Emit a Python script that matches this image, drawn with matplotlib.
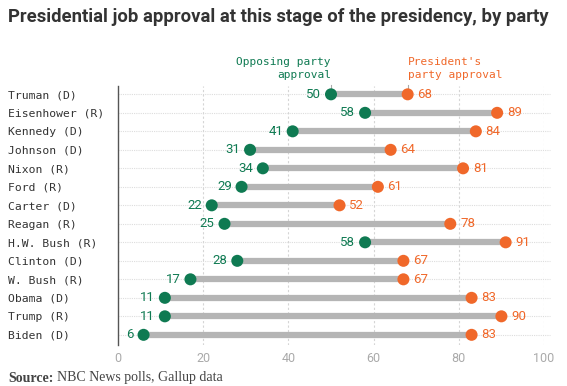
import numpy as np
import matplotlib
matplotlib.use("Agg")
import matplotlib.pyplot as plt

#%% data
presidents = ["Truman (D)", "Eisenhower (R)", "Kennedy (D)", "Johnson (D)", "Nixon (R)",
              "Ford (R)", "Carter (D)", "Reagan (R)", "H.W. Bush (R)", "Clinton (D)",
              "W. Bush (R)", "Obama (D)", "Trump (R)", "Biden (D)"]
opposing = [50, 58, 41, 31, 34, 29, 22, 25, 58, 28, 17, 11, 11, 6]
own_party = [68, 89, 84, 64, 81, 61, 52, 78, 91, 67, 67, 83, 90, 83]
xticks = [0, 20, 40, 60, 80, 100]

green = "#0f7a52"
orange = "#f0682a"
bar_gray = "#b5b5b5"
mono = "DejaVu Sans Mono"
sans = "Roboto"

#%% figure
W, H = 567, 386
fig = plt.figure(figsize=(W/100, H/100), dpi=100)

x0, x100 = 118, 544
ytop, ybot = 86, 345
ax = fig.add_axes([x0/W, 1-ybot/H, (x100-x0)/W, (ybot-ytop)/H])

n = len(presidents)
y = np.arange(n)
ax.set_xlim(0, 100)
ax.set_ylim(n-1+0.55, -0.45)

# grid
for yy in y:
    ax.plot([0, 101.5], [yy, yy], color="#dddddd", lw=0.8, ls=(0, (1, 1)), zorder=0, clip_on=False)
for xt in xticks[1:]:
    ax.axvline(xt, color="#d5d5d5", lw=0.8, ls=(0, (2, 2)), zorder=0)

# bars and dots
for i in range(n):
    ax.plot([opposing[i], own_party[i]], [i, i], color=bar_gray, lw=4.5, solid_capstyle="butt", zorder=2)
ax.scatter(opposing, y, s=75, color=green, zorder=3, edgecolor="none")
ax.scatter(own_party, y, s=75, color=orange, zorder=3, edgecolor="none")

for i in range(n):
    ax.annotate(str(opposing[i]), (opposing[i], i), xytext=(-7, 0), textcoords="offset points",
                ha="right", va="center", color=green, fontsize=9.5, family=sans)
    ax.annotate(str(own_party[i]), (own_party[i], i), xytext=(7, 0), textcoords="offset points",
                ha="left", va="center", color=orange, fontsize=9.5, family=sans)

# axes styling
for s in ["top", "right", "bottom"]:
    ax.spines[s].set_visible(False)
ax.spines["left"].set_color("#555555")
ax.spines["left"].set_linewidth(1.0)
ax.set_xticks(xticks)
ax.set_xticklabels([str(t) for t in xticks], color="#aaaaaa", fontsize=9, family=sans)
ax.tick_params(axis="x", length=0, pad=5)
ax.set_yticks(y)
ax.set_yticklabels(presidents, family=mono, fontsize=8.2, color="#333333", ha="left")
ax.tick_params(axis="y", length=0, pad=(x0-8)*72/100)

# header labels
ax.annotate("Opposing party\napproval", (opposing[0], -0.45), xytext=(0, 4), textcoords="offset points",
            ha="right", va="bottom", color=green, fontsize=8, family=mono, multialignment="right",
            linespacing=1.4, annotation_clip=False)
ax.annotate("President's\nparty approval", (own_party[0], -0.45), xytext=(0, 4), textcoords="offset points",
            ha="left", va="bottom", color=orange, fontsize=8, family=mono, multialignment="left",
            linespacing=1.4, annotation_clip=False)
for xv in [opposing[0], own_party[0]]:
    ax.plot([xv, xv], [-0.3, -0.5], color="#aaaaaa", lw=0.8, clip_on=False)

# title, sized to the reference width
title = fig.text(8/W, 1-17/H, "Presidential job approval at this stage of the presidency, by party",
                 fontsize=15, fontweight="bold", family=sans, color="#333333", va="center")
src1 = fig.text(8/W, 1-378/H, "Source:", fontsize=10, fontweight="bold", family="Liberation Serif",
                color="#444444", va="center")
fig.canvas.draw()
tw = title.get_window_extent().width
title.set_fontsize(15*544/tw)
sx = src1.get_window_extent().x1
fig.text((sx+4)/W, 1-378/H, "NBC News polls, Gallup data", fontsize=10, family="Liberation Serif",
         color="#444444", va="center")

fig.savefig("out.png", dpi=100)
